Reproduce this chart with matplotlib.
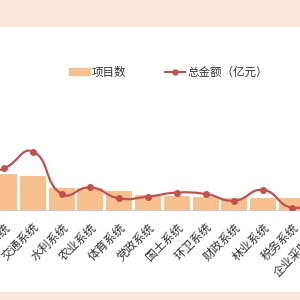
import numpy as np
import matplotlib
matplotlib.use('Agg')
import matplotlib.pyplot as plt
from matplotlib.path import Path
from matplotlib.patches import PathPatch, Rectangle
from matplotlib.lines import Line2D

plt.rcParams['font.family'] = ['Noto Sans CJK SC', 'DejaVu Sans']

# the view is a crop of a wider chart: first and last categories sit outside it
categories = ['公安系统', '教育系统', '交通系统', '水利系统', '农业系统', '体育系统', '党政系统',
              '国土系统', '环卫系统', '财政系统', '林业系统', '税务系统', '企业采购系统']
project_counts = [140, 125, 120, 78, 78, 68, 52, 49, 47, 41, 43, 41, 35]
total_amount = [17.5, 20.8, 29.2, 8.0, 11.3, 5.8, 6.7, 8.7, 8.0, 4.7, 10.0, 1.2, 6.0]

bar_color = '#f9c08f'
line_color = '#c4504e'
band_color = '#fce8db'


def smooth_path(xs, ys, sx, sy, smooth=0.5):
    # bezier smoothing like echarts' smooth line
    pts = np.column_stack([xs, ys]).astype(float)
    scale = np.array([sx, sy])
    n = len(pts)
    c_in, c_out = [], []
    for i in range(n):
        prev = pts[max(i - 1, 0)]
        nxt = pts[min(i + 1, n - 1)]
        v = nxt - prev
        d0 = np.hypot(*((pts[i] - prev) * scale))
        d1 = np.hypot(*((nxt - pts[i]) * scale))
        tot = d0 + d1
        r0 = d0 / tot if tot else 0
        r1 = d1 / tot if tot else 0
        c_in.append(pts[i] - v * smooth * r0)
        c_out.append(pts[i] + v * smooth * r1)
    verts = [pts[0]]
    codes = [Path.MOVETO]
    for i in range(n - 1):
        verts += [c_out[i], c_in[i + 1], pts[i + 1]]
        codes += [Path.CURVE4] * 3
    return Path(verts, codes)


fig = plt.figure(figsize=(3, 3), dpi=100)
fig.patches.append(Rectangle((0, 1 - 26 / 300), 1, 26 / 300, transform=fig.transFigure,
                             color=band_color, zorder=0))
fig.patches.append(Rectangle((0, 0), 1, 8 / 300, transform=fig.transFigure,
                             color=band_color, zorder=0))

ax = fig.add_axes([-40 / 300, 90 / 300, 380 / 300, 184 / 300])
ax.set_facecolor('none')
x = np.arange(len(categories))
ax.bar(x, project_counts, width=0.9, color=bar_color, zorder=2)
ax.set_xlim(-0.528, 12.667)
ax.set_ylim(0, 644)
for s in ['top', 'left', 'right']:
    ax.spines[s].set_visible(False)
ax.spines['bottom'].set_color('#cccccc')
ax.set_yticks([])
ax.set_xticks(x)
ax.set_xticklabels(categories, rotation=45, ha='right', va='top', rotation_mode='anchor',
                   fontsize=8.5, color='#333333')
ax.tick_params(axis='x', length=0, pad=7.5)

ax2 = ax.twinx()
ax2.set_ylim(0, 92)
for s in ax2.spines.values():
    s.set_visible(False)
ax2.set_yticks([])
path = smooth_path(x, total_amount, 28.8, 2.0)
ax2.add_patch(PathPatch(path, facecolor='none', edgecolor=line_color, lw=1.6, zorder=3))
ax2.plot(x, total_amount, 'o', ms=4, color=line_color, zorder=4)

handles = [Rectangle((0, 0), 1, 1, color=bar_color),
           Line2D([], [], color=line_color, lw=1.5, marker='o', ms=3.5)]
fig.legend(handles, ['项目数', '总金额（亿元）'], loc='center',
           bbox_to_anchor=(168.5 / 300, 1 - 72 / 300), ncol=2, frameon=False,
           fontsize=8.3, handlelength=1.8, handleheight=0.5, handletextpad=0.2,
           columnspacing=3.3, labelcolor='#333333')

fig.savefig('out.png', dpi=100)
